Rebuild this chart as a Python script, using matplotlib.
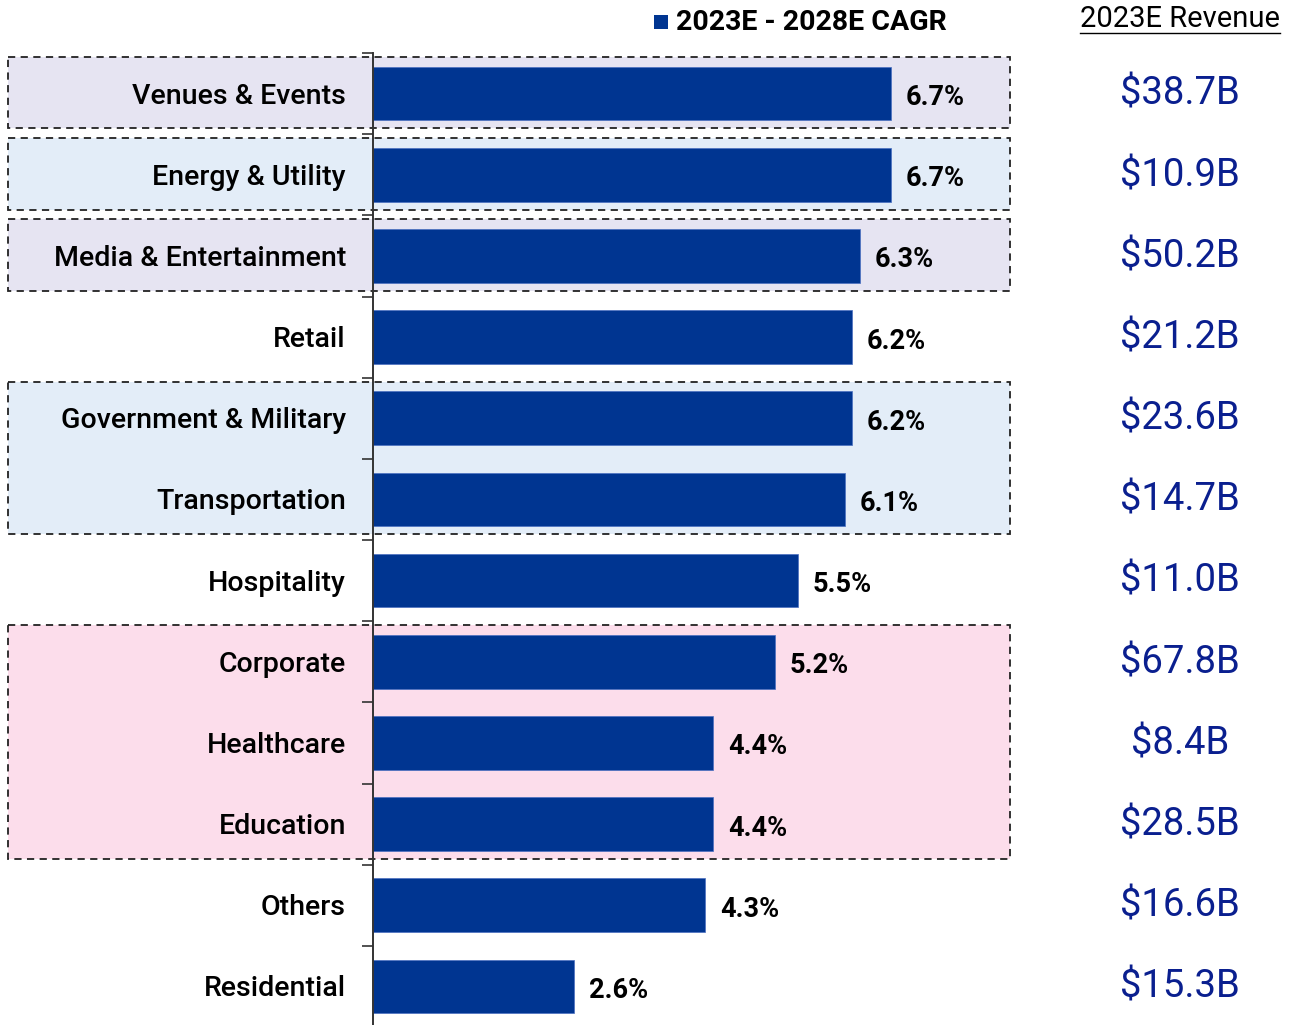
import numpy as np
import matplotlib
matplotlib.use('Agg')
import matplotlib.pyplot as plt
from matplotlib.patches import Rectangle

plt.rcParams['font.family'] = ['Roboto', 'DejaVu Sans']

categories = ['Venues & Events', 'Energy & Utility', 'Media & Entertainment', 'Retail',
              'Government & Military', 'Transportation', 'Hospitality', 'Corporate',
              'Healthcare', 'Education', 'Others', 'Residential']
cagr = [6.7, 6.7, 6.3, 6.2, 6.2, 6.1, 5.5, 5.2, 4.4, 4.4, 4.3, 2.6]
revenue = ['$38.7B', '$10.9B', '$50.2B', '$21.2B', '$23.6B', '$14.7B', '$11.0B',
           '$67.8B', '$8.4B', '$28.5B', '$16.6B', '$15.3B']
# groups (first row, last row, fill colour)
groups = [(0, 0, '#E6E4F2'), (1, 1, '#E3EDF8'), (2, 2, '#E6E4F2'),
          (4, 5, '#E3EDF8'), (7, 9, '#FCDDEB')]

bar_color = '#003591'
rev_color = '#0A1F8F'

W, H = 1295, 1025
fig = plt.figure(figsize=(W / 100, H / 100), dpi=100)
ax_left, ax_right = 373 / W, 1010 / W
ax_top, ax_bot = 1 - 53 / H, 1 - 1027 / H
ax = fig.add_axes([ax_left, ax_bot, ax_right - ax_left, ax_top - ax_bot])

y = np.arange(len(categories))
xmax = (1010 - 373) / 77.3
ax.set_xlim(0, xmax)
ax.set_ylim(len(categories) - 0.5, -0.5)

# group boxes (extend past axes to the left)
xl = -(373 - 8) / 77.3
for a, b, c in groups:
    top = a - 0.45
    bot = b + 0.43
    r = Rectangle((xl, top), xmax - xl, bot - top, facecolor=c, edgecolor='#222222',
                  linestyle=(0, (4, 3)), linewidth=1.3, clip_on=False, zorder=0)
    ax.add_patch(r)

ax.barh(y, cagr, height=0.66, color=bar_color, edgecolor='#4A6FC0', linewidth=0.5, zorder=2,
        label='2023E - 2028E CAGR')

for yi, v in zip(y, cagr):
    ax.text(v + 0.19, yi + 0.05, '{:.1f}%'.format(v), va='center', ha='left',
            fontsize=19.5, fontweight='semibold', color='black', zorder=3)

for yi, lab in zip(y, categories):
    ax.text(-0.35, yi + 0.03, lab, va='center', ha='right', fontsize=20.5, fontweight='medium',
            color='black', zorder=3)

rev_x = (1180 - 373) / 77.3
for yi, r in zip(y, revenue):
    ax.text(rev_x, yi + 0.01, r, va='center', ha='center', fontsize=27.5, color=rev_color,
            clip_on=False)

# axis styling
for s in ['top', 'right', 'bottom']:
    ax.spines[s].set_visible(False)
ax.spines['left'].set_linewidth(1.4)
ax.spines['left'].set_color('#333333')
ax.set_xticks([])
ax.set_yticks([])
ax.set_yticks(np.arange(-0.5, len(categories) - 0.5, 1.0), minor=True)
ax.tick_params(axis='y', which='minor', length=8, width=1.2, color='#333333', direction='out')
ax.patch.set_alpha(0)

# legend
fig.patches.append(Rectangle((654 / W, 1 - 29 / H), 14 / W, 14 / H, transform=fig.transFigure,
                             facecolor=bar_color, edgecolor='none'))
fig.text(676 / W, 1 - 22 / H, '2023E - 2028E CAGR', ha='left', va='center', fontsize=20.5,
         fontweight='semibold', color='black')

# revenue header
t = fig.text(1180 / W, 1 - 19 / H, '2023E Revenue', ha='center', va='center', fontsize=21,
             color='black')
fig.canvas.draw()
bb = t.get_window_extent()
fig.add_artist(plt.Line2D([bb.x0 / W, bb.x1 / W], [1 - 33 / H, 1 - 33 / H],
                          transform=fig.transFigure, color='black', linewidth=1))

fig.savefig('out.png', dpi=100)
